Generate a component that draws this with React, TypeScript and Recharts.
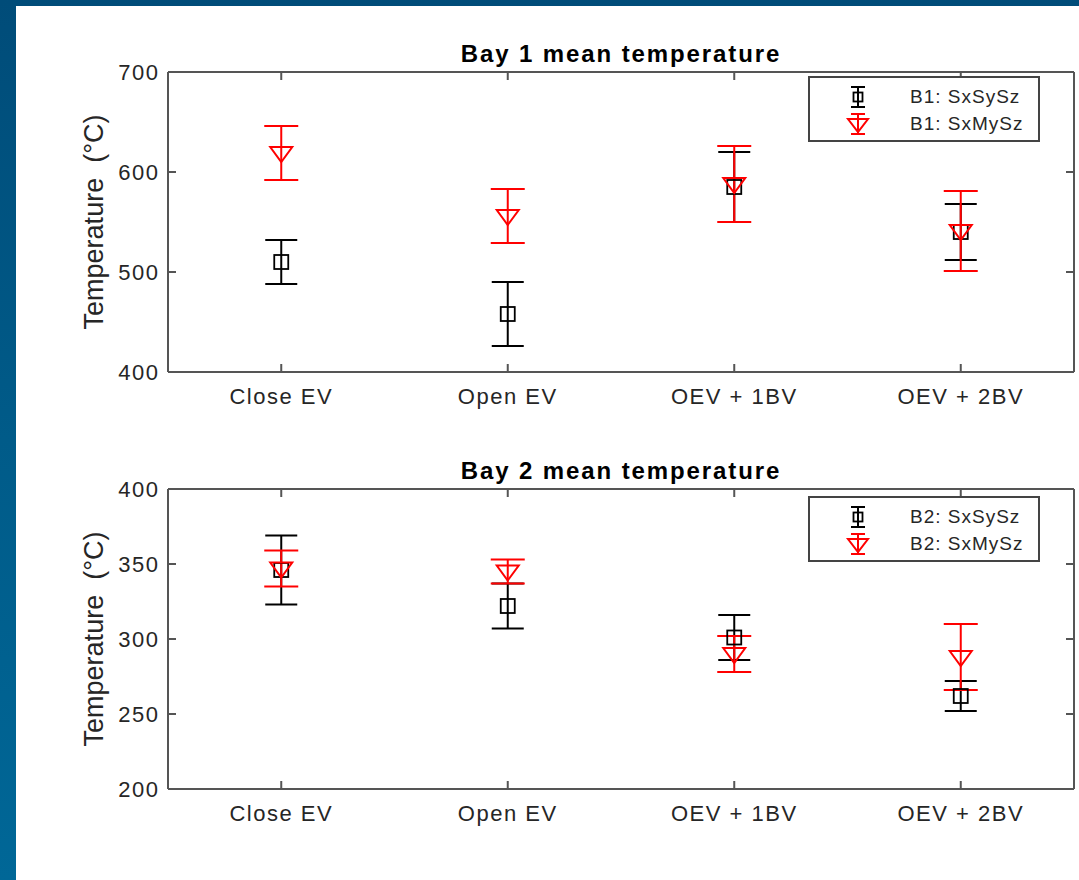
import React from 'react';
import {
	ScatterChart,
	Scatter,
	XAxis,
	YAxis,
	ErrorBar,
	Legend,
	Label,
	ReferenceLine,
} from 'recharts';

const categories = ['Close EV', 'Open EV', 'OEV + 1BV', 'OEV + 2BV'];

// Bay 1 (mean, +/- error)
const bay1SxSySz = [510, 458, 585, 540];
const bay1SxSySzErr = [22, 32, 35, 28];
const bay1SxMySz = [619, 556, 588, 541];
const bay1SxMySzErr = [27, 27, 38, 40];

// Bay 2
const bay2SxSySz = [346, 322, 301, 262];
const bay2SxSySzErr = [23, 15, 15, 10];
const bay2SxMySz = [347, 345, 290, 288];
const bay2SxMySzErr = [12, 8, 12, 22];

const bay1Ticks = [400, 500, 600, 700];
const bay2Ticks = [200, 250, 300, 350, 400];
const xTicks = categories.map((_, i) => i + 1);

const AXIS = '#555555';
const TEXT = '#262626';
const FONT = '"Liberation Sans", Arial, Helvetica, sans-serif';

// chart box (each panel)
const W = 1079;
const H = 430;
const MARGIN = { top: 72, right: 5, bottom: 18, left: 60 };
const Y_AXIS_W = 108;
const X_AXIS_H = 40;
const PLOT_W = W - MARGIN.left - MARGIN.right - Y_AXIS_W;
const PLOT_H = H - MARGIN.top - MARGIN.bottom - X_AXIS_H;
const X_MARGIN = 16;
const Y_MARGIN = 10;
const TICK = 8;

const toRows = (vals: number[], errs: number[]) =>
	vals.map((v, i) => ({ x: i + 1, y: v, err: errs[i] }));

// inward ticks on bottom + mirrored on top, matlab-style
const XTick = (props: any) => {
	const { x, y, payload } = props;
	const axisY = y - X_MARGIN;
	return (
		<g>
			<line x1={x} x2={x} y1={axisY} y2={axisY - TICK} stroke={AXIS} strokeWidth={2} />
			<line x1={x} x2={x} y1={axisY - PLOT_H} y2={axisY - PLOT_H + TICK} stroke={AXIS} strokeWidth={2} />
			<text
				x={x}
				y={y}
				dy="0.71em"
				textAnchor="middle"
				fill={TEXT}
				fontSize={22}
				className="tick-txt"
			>
				{categories[payload.value - 1]}
			</text>
		</g>
	);
};

const YTick = (props: any) => {
	const { x, y, payload } = props;
	const axisX = x + Y_MARGIN;
	return (
		<g>
			<line x1={axisX} x2={axisX + TICK} y1={y} y2={y} stroke={AXIS} strokeWidth={2} />
			<line x1={axisX + PLOT_W - TICK} x2={axisX + PLOT_W} y1={y} y2={y} stroke={AXIS} strokeWidth={2} />
			<text x={x + 1.5} y={y} dy="0.355em" textAnchor="end" fill={TEXT} fontSize={22} className="tick-txt">
				{payload.value}
			</text>
		</g>
	);
};

const SquareMarker = (props: any) => {
	const { cx, cy } = props;
	return (
		<rect x={cx - 7} y={cy - 7} width={14} height={14} fill="none" stroke="#000" strokeWidth={1.8} />
	);
};

const DownTriangle = (props: any) => {
	const { cx, cy } = props;
	return (
		<path
			d={`M${cx - 11},${cy - 6} L${cx + 11},${cy - 6} L${cx},${cy + 9} Z`}
			fill="none"
			stroke="#ff0000"
			strokeWidth={2}
		/>
	);
};

const SquareIcon = () => (
	<svg width={28} height={26}>
		<line x1={14} y1={3} x2={14} y2={23} stroke="#000" strokeWidth={2} />
		<line x1={7} y1={3} x2={21} y2={3} stroke="#000" strokeWidth={2} />
		<line x1={7} y1={23} x2={21} y2={23} stroke="#000" strokeWidth={2} />
		<rect x={9.5} y={8.5} width={9} height={9} fill="none" stroke="#000" strokeWidth={1.8} />
	</svg>
);

const TriangleIcon = () => (
	<svg width={28} height={26}>
		<line x1={14} y1={3} x2={14} y2={23} stroke="#ff0000" strokeWidth={2} />
		<line x1={7} y1={3} x2={21} y2={3} stroke="#ff0000" strokeWidth={2} />
		<line x1={7} y1={23} x2={21} y2={23} stroke="#ff0000" strokeWidth={2} />
		<path d="M4,8 L24,8 L14,21 Z" fill="none" stroke="#ff0000" strokeWidth={2} />
	</svg>
);

function LegendBox({ names }: { names: string[] }) {
	return (
		<div
			style={{
				width: 232,
				height: 66,
				boxSizing: 'border-box',
				border: '2px solid #444',
				background: '#fff',
				paddingTop: 5,
				fontFamily: FONT,
			}}
		>
			{names.map((n, i) => (
				<div key={n} style={{ display: 'flex', alignItems: 'center', height: 27 }}>
					<div style={{ marginLeft: 34, width: 28, height: 26 }}>
						{i === 0 ? <SquareIcon /> : <TriangleIcon />}
					</div>
					<span style={{ marginLeft: 38, fontSize: 19, letterSpacing: 1, color: TEXT }}>{n}</span>
				</div>
			))}
		</div>
	);
}

type PanelProps = {
	title: string;
	names: string[];
	squares: number[];
	squareErr: number[];
	tris: number[];
	triErr: number[];
	yTicks: number[];
	top: number;
	legendTop: number;
};

function BayPanel({ title, names, squares, squareErr, tris, triErr, yTicks, top, legendTop }: PanelProps) {
	const domain = [yTicks[0], yTicks[yTicks.length - 1]];
	return (
		<div style={{ position: 'absolute', left: 0, top }}>
			<ScatterChart width={W} height={H} margin={MARGIN}>
				<XAxis
					xAxisId="b"
					type="number"
					dataKey="x"
					domain={[0.5, 4.5]}
					ticks={xTicks}
					interval={0}
					height={X_AXIS_H}
					stroke={AXIS}
					strokeWidth={2}
					tickSize={0}
					tickLine={false}
					tickMargin={X_MARGIN}
					tick={<XTick />}
				/>
				<YAxis
					yAxisId="l"
					type="number"
					dataKey="y"
					domain={domain}
					ticks={yTicks}
					interval={0}
					width={Y_AXIS_W}
					stroke={AXIS}
					strokeWidth={2}
					tickSize={0}
					tickLine={false}
					tickMargin={Y_MARGIN}
					tick={<YTick />}
				>
					<Label
						value={'Temperature\u00A0 (°C)'}
						angle={-90}
						position="insideLeft"
						offset={33}
						fill={TEXT}
						fontSize={27}
						style={{ textAnchor: 'middle' }}
					/>
				</YAxis>
				<ReferenceLine xAxisId="b" yAxisId="l" y={domain[1]} stroke={AXIS} strokeWidth={2}>
					<Label
						value={title}
						position="top"
						offset={10}
						fill="#000"
						fontSize={24}
						fontWeight="bold"
						className="panel-title"
					/>
				</ReferenceLine>
				<ReferenceLine xAxisId="b" yAxisId="l" x={4.5} stroke={AXIS} strokeWidth={2} />
				<Legend
					layout="vertical"
					align="center"
					verticalAlign="middle"
					wrapperStyle={{ left: 808, top: legendTop, width: 232, height: 66 }}
					content={() => <LegendBox names={names} />}
				/>
				<Scatter
					name={names[0]}
					xAxisId="b"
					yAxisId="l"
					data={toRows(squares, squareErr)}
					fill="#000"
					shape={SquareMarker}
					isAnimationActive={false}
				>
					<ErrorBar dataKey="err" direction="y" width={16} stroke="#000" strokeWidth={2} />
				</Scatter>
				<Scatter
					name={names[1]}
					xAxisId="b"
					yAxisId="l"
					data={toRows(tris, triErr)}
					fill="#ff0000"
					shape={DownTriangle}
					isAnimationActive={false}
				>
					<ErrorBar dataKey="err" direction="y" width={17} stroke="#ff0000" strokeWidth={2} />
				</Scatter>
			</ScatterChart>
		</div>
	);
}

export default function App() {
	return (
		<div
			style={{
				position: 'absolute',
				left: 0,
				top: 0,
				width: 1079,
				height: 880,
				overflow: 'hidden',
				background: 'linear-gradient(180deg, #004c79 0%, #005b89 50%, #006797 100%)',
				fontFamily: FONT,
			}}
		>
			<style>{`
				.tick-txt { letter-spacing: 1.5px; }
				.panel-title { letter-spacing: 1.9px; }
			`}</style>
			<div style={{ position: 'absolute', left: 16, top: 6, right: 0, bottom: 0, background: '#fff' }} />
			<BayPanel
				title="Bay 1 mean temperature"
				names={['B1: SxSySz', 'B1: SxMySz']}
				squares={bay1SxSySz}
				squareErr={bay1SxSySzErr}
				tris={bay1SxMySz}
				triErr={bay1SxMySzErr}
				yTicks={bay1Ticks}
				top={0}
				legendTop={76}
			/>
			<BayPanel
				title="Bay 2 mean temperature"
				names={['B2: SxSySz', 'B2: SxMySz']}
				squares={bay2SxSySz}
				squareErr={bay2SxSySzErr}
				tris={bay2SxMySz}
				triErr={bay2SxMySzErr}
				yTicks={bay2Ticks}
				top={417}
				legendTop={79}
			/>
		</div>
	);
}
